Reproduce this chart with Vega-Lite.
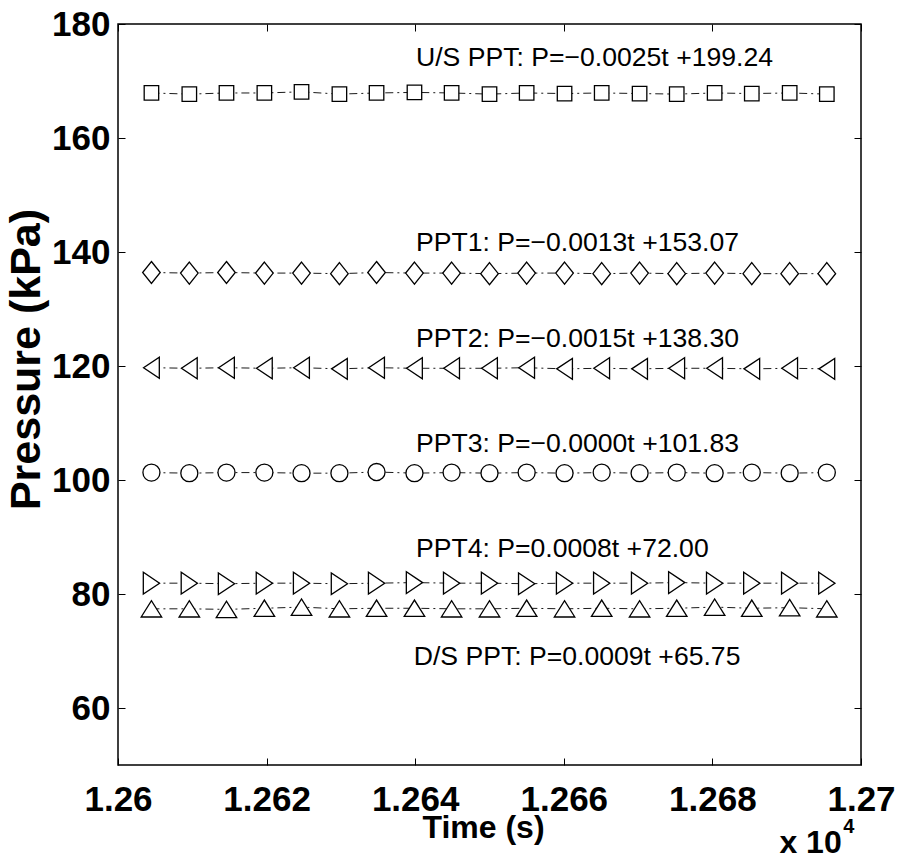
{
  "$schema": "https://vega.github.io/schema/vega-lite/v6.json",
  "autosize": "none",
  "width": 743,
  "height": 741,
  "padding": {"left": 118, "top": 24, "right": 38, "bottom": 99},
  "background": "white",
  "config": {
    "view": {"stroke": "#000", "strokeWidth": 1.5},
    "font": "Liberation Sans",
    "axis": {"grid": false, "domain": false, "tickColor": "#000", "tickWidth": 1, "labelColor": "#000", "titleColor": "#000"}
  },
  "datasets": {
    "readings": [
      {"series": "U/S PPT", "t": 12604.5, "p": 167.9},
      {"series": "U/S PPT", "t": 12609.6, "p": 167.7},
      {"series": "U/S PPT", "t": 12614.6, "p": 167.9},
      {"series": "U/S PPT", "t": 12619.7, "p": 167.9},
      {"series": "U/S PPT", "t": 12624.7, "p": 168.1},
      {"series": "U/S PPT", "t": 12629.8, "p": 167.7},
      {"series": "U/S PPT", "t": 12634.8, "p": 167.9},
      {"series": "U/S PPT", "t": 12639.9, "p": 168.0},
      {"series": "U/S PPT", "t": 12644.9, "p": 167.9},
      {"series": "U/S PPT", "t": 12650.0, "p": 167.7},
      {"series": "U/S PPT", "t": 12655.0, "p": 167.9},
      {"series": "U/S PPT", "t": 12660.1, "p": 167.8},
      {"series": "U/S PPT", "t": 12665.1, "p": 167.9},
      {"series": "U/S PPT", "t": 12670.2, "p": 167.8},
      {"series": "U/S PPT", "t": 12675.2, "p": 167.7},
      {"series": "U/S PPT", "t": 12680.3, "p": 167.9},
      {"series": "U/S PPT", "t": 12685.3, "p": 167.8},
      {"series": "U/S PPT", "t": 12690.4, "p": 167.9},
      {"series": "U/S PPT", "t": 12695.4, "p": 167.7},

      {"series": "PPT1", "t": 12604.5, "p": 136.4},
      {"series": "PPT1", "t": 12609.6, "p": 136.3},
      {"series": "PPT1", "t": 12614.6, "p": 136.4},
      {"series": "PPT1", "t": 12619.7, "p": 136.3},
      {"series": "PPT1", "t": 12624.7, "p": 136.3},
      {"series": "PPT1", "t": 12629.8, "p": 136.2},
      {"series": "PPT1", "t": 12634.8, "p": 136.4},
      {"series": "PPT1", "t": 12639.9, "p": 136.3},
      {"series": "PPT1", "t": 12644.9, "p": 136.3},
      {"series": "PPT1", "t": 12650.0, "p": 136.2},
      {"series": "PPT1", "t": 12655.0, "p": 136.3},
      {"series": "PPT1", "t": 12660.1, "p": 136.3},
      {"series": "PPT1", "t": 12665.1, "p": 136.2},
      {"series": "PPT1", "t": 12670.2, "p": 136.3},
      {"series": "PPT1", "t": 12675.2, "p": 136.2},
      {"series": "PPT1", "t": 12680.3, "p": 136.3},
      {"series": "PPT1", "t": 12685.3, "p": 136.2},
      {"series": "PPT1", "t": 12690.4, "p": 136.2},
      {"series": "PPT1", "t": 12695.4, "p": 136.2},

      {"series": "PPT2", "t": 12604.5, "p": 119.7},
      {"series": "PPT2", "t": 12609.6, "p": 119.6},
      {"series": "PPT2", "t": 12614.6, "p": 119.7},
      {"series": "PPT2", "t": 12619.7, "p": 119.6},
      {"series": "PPT2", "t": 12624.7, "p": 119.7},
      {"series": "PPT2", "t": 12629.8, "p": 119.5},
      {"series": "PPT2", "t": 12634.8, "p": 119.7},
      {"series": "PPT2", "t": 12639.9, "p": 119.6},
      {"series": "PPT2", "t": 12644.9, "p": 119.6},
      {"series": "PPT2", "t": 12650.0, "p": 119.6},
      {"series": "PPT2", "t": 12655.0, "p": 119.7},
      {"series": "PPT2", "t": 12660.1, "p": 119.5},
      {"series": "PPT2", "t": 12665.1, "p": 119.6},
      {"series": "PPT2", "t": 12670.2, "p": 119.5},
      {"series": "PPT2", "t": 12675.2, "p": 119.6},
      {"series": "PPT2", "t": 12680.3, "p": 119.6},
      {"series": "PPT2", "t": 12685.3, "p": 119.5},
      {"series": "PPT2", "t": 12690.4, "p": 119.6},
      {"series": "PPT2", "t": 12695.4, "p": 119.5},

      {"series": "PPT3", "t": 12604.5, "p": 101.3},
      {"series": "PPT3", "t": 12609.6, "p": 101.2},
      {"series": "PPT3", "t": 12614.6, "p": 101.3},
      {"series": "PPT3", "t": 12619.7, "p": 101.3},
      {"series": "PPT3", "t": 12624.7, "p": 101.2},
      {"series": "PPT3", "t": 12629.8, "p": 101.2},
      {"series": "PPT3", "t": 12634.8, "p": 101.4},
      {"series": "PPT3", "t": 12639.9, "p": 101.2},
      {"series": "PPT3", "t": 12644.9, "p": 101.3},
      {"series": "PPT3", "t": 12650.0, "p": 101.2},
      {"series": "PPT3", "t": 12655.0, "p": 101.3},
      {"series": "PPT3", "t": 12660.1, "p": 101.2},
      {"series": "PPT3", "t": 12665.1, "p": 101.3},
      {"series": "PPT3", "t": 12670.2, "p": 101.2},
      {"series": "PPT3", "t": 12675.2, "p": 101.3},
      {"series": "PPT3", "t": 12680.3, "p": 101.2},
      {"series": "PPT3", "t": 12685.3, "p": 101.3},
      {"series": "PPT3", "t": 12690.4, "p": 101.2},
      {"series": "PPT3", "t": 12695.4, "p": 101.3},

      {"series": "PPT4", "t": 12604.5, "p": 81.9},
      {"series": "PPT4", "t": 12609.6, "p": 81.9},
      {"series": "PPT4", "t": 12614.6, "p": 81.8},
      {"series": "PPT4", "t": 12619.7, "p": 81.9},
      {"series": "PPT4", "t": 12624.7, "p": 81.9},
      {"series": "PPT4", "t": 12629.8, "p": 81.8},
      {"series": "PPT4", "t": 12634.8, "p": 81.9},
      {"series": "PPT4", "t": 12639.9, "p": 82.0},
      {"series": "PPT4", "t": 12644.9, "p": 81.9},
      {"series": "PPT4", "t": 12650.0, "p": 81.9},
      {"series": "PPT4", "t": 12655.0, "p": 81.8},
      {"series": "PPT4", "t": 12660.1, "p": 81.9},
      {"series": "PPT4", "t": 12665.1, "p": 81.9},
      {"series": "PPT4", "t": 12670.2, "p": 81.9},
      {"series": "PPT4", "t": 12675.2, "p": 82.0},
      {"series": "PPT4", "t": 12680.3, "p": 81.9},
      {"series": "PPT4", "t": 12685.3, "p": 81.9},
      {"series": "PPT4", "t": 12690.4, "p": 81.9},
      {"series": "PPT4", "t": 12695.4, "p": 81.9},

      {"series": "D/S PPT", "t": 12604.5, "p": 77.4},
      {"series": "D/S PPT", "t": 12609.6, "p": 77.4},
      {"series": "D/S PPT", "t": 12614.6, "p": 77.3},
      {"series": "D/S PPT", "t": 12619.7, "p": 77.5},
      {"series": "D/S PPT", "t": 12624.7, "p": 77.7},
      {"series": "D/S PPT", "t": 12629.8, "p": 77.4},
      {"series": "D/S PPT", "t": 12634.8, "p": 77.5},
      {"series": "D/S PPT", "t": 12639.9, "p": 77.5},
      {"series": "D/S PPT", "t": 12644.9, "p": 77.4},
      {"series": "D/S PPT", "t": 12650.0, "p": 77.4},
      {"series": "D/S PPT", "t": 12655.0, "p": 77.5},
      {"series": "D/S PPT", "t": 12660.1, "p": 77.4},
      {"series": "D/S PPT", "t": 12665.1, "p": 77.5},
      {"series": "D/S PPT", "t": 12670.2, "p": 77.4},
      {"series": "D/S PPT", "t": 12675.2, "p": 77.5},
      {"series": "D/S PPT", "t": 12680.3, "p": 77.7},
      {"series": "D/S PPT", "t": 12685.3, "p": 77.5},
      {"series": "D/S PPT", "t": 12690.4, "p": 77.6},
      {"series": "D/S PPT", "t": 12695.4, "p": 77.4}
    ],
    "fits": [
      {"label": "U/S PPT: P=\u22120.0025t +199.24", "t": 12640.1, "p": 172.6},
      {"label": "PPT1: P=\u22120.0013t +153.07", "t": 12640.1, "p": 140.2},
      {"label": "PPT2: P=\u22120.0015t +138.30", "t": 12640.1, "p": 123.3},
      {"label": "PPT3: P=\u22120.0000t +101.83", "t": 12640.1, "p": 104.9},
      {"label": "PPT4: P=0.0008t +72.00", "t": 12640.1, "p": 86.5},
      {"label": "D/S PPT: P=0.0009t +65.75", "t": 12639.8, "p": 67.5}
    ],
    "multiplier": [
      {"label": "x 10", "t": 12697.4, "p": 34.6}
    ],
    "exponent": [
      {"label": "4", "t": 12697.6, "p": 38.1}
    ]
  },
  "resolve": {"axis": {"x": "independent", "y": "independent"}},
  "layer": [
    {
      "data": {"name": "readings"},
      "mark": {"type": "line", "stroke": "#000", "strokeWidth": 0.9, "strokeDash": [8, 4, 2, 4], "clip": true},
      "encoding": {
        "x": {
          "field": "t", "type": "quantitative",
          "scale": {"domain": [12600, 12700], "nice": false, "zero": false},
          "axis": {
            "orient": "bottom", "values": [12600, 12620, 12640, 12660, 12680, 12700],
            "labelExpr": "format(datum.value / 10000, '~g')",
            "tickSize": -7, "labelPadding": 24, "labelFontSize": 35, "labelFontWeight": "bold",
            "labelFlush": false, "labelOverlap": false,
            "title": "Time (s)", "titleFontSize": 32, "titleFontWeight": "bold", "titlePadding": -5, "titleX": 365
          }
        },
        "y": {
          "field": "p", "type": "quantitative",
          "scale": {"domain": [50, 180], "nice": false, "zero": false},
          "axis": {
            "orient": "left", "values": [60, 80, 100, 120, 140, 160, 180],
            "tickSize": -7, "labelPadding": 15, "labelFontSize": 35, "labelFontWeight": "bold",
            "labelFlush": false, "labelOverlap": false,
            "title": "Pressure (kPa)", "titleFontSize": 43, "titleFontWeight": "bold",
            "titleX": -70, "titleY": 335, "titleBaseline": "bottom"
          }
        },
        "detail": {"field": "series"}
      }
    },
    {
      "data": {"name": "readings"},
      "mark": {"type": "point", "filled": false, "fill": "white", "fillOpacity": 1, "stroke": "#000", "strokeWidth": 1.3, "opacity": 1},
      "encoding": {
        "x": {
          "field": "t", "type": "quantitative",
          "axis": {"orient": "top", "values": [12600, 12620, 12640, 12660, 12680, 12700], "tickSize": -7, "labels": false, "title": null}
        },
        "y": {
          "field": "p", "type": "quantitative",
          "axis": {"orient": "right", "values": [60, 80, 100, 120, 140, 160, 180], "tickSize": -7, "labels": false, "title": null}
        },
        "shape": {
          "field": "series", "type": "nominal", "legend": null,
          "scale": {
            "domain": ["U/S PPT", "PPT1", "PPT2", "PPT3", "PPT4", "D/S PPT"],
            "range": ["square", "M0,-1L0.8,0L0,1L-0.8,0Z", "M0.75,-1L0.75,1L-0.75,0Z", "circle", "M-0.75,-1L-0.75,1L0.75,0Z", "M-1,0.8L1,0.8L0,-0.8Z"]
          }
        },
        "size": {
          "field": "series", "type": "nominal", "legend": null,
          "scale": {
            "type": "ordinal",
            "domain": ["U/S PPT", "PPT1", "PPT2", "PPT3", "PPT4", "D/S PPT"],
            "range": [210, 484, 441, 290, 470, 420]
          }
        }
      }
    },
    {
      "data": {"name": "fits"},
      "mark": {"type": "text", "align": "left", "baseline": "alphabetic", "fontSize": 26.6, "font": "Liberation Sans", "color": "#000"},
      "encoding": {
        "x": {"field": "t", "type": "quantitative", "axis": null},
        "y": {"field": "p", "type": "quantitative", "axis": null},
        "text": {"field": "label"}
      }
    },
    {
      "data": {"name": "multiplier"},
      "mark": {"type": "text", "align": "right", "baseline": "alphabetic", "fontSize": 32, "fontWeight": "bold", "font": "Liberation Sans", "color": "#000", "clip": false},
      "encoding": {
        "x": {"field": "t", "type": "quantitative", "axis": null},
        "y": {"field": "p", "type": "quantitative", "axis": null},
        "text": {"field": "label"}
      }
    },
    {
      "data": {"name": "exponent"},
      "mark": {"type": "text", "align": "left", "baseline": "alphabetic", "fontSize": 20, "fontWeight": "bold", "font": "Liberation Sans", "color": "#000", "clip": false},
      "encoding": {
        "x": {"field": "t", "type": "quantitative", "axis": null},
        "y": {"field": "p", "type": "quantitative", "axis": null},
        "text": {"field": "label"}
      }
    }
  ]
}
